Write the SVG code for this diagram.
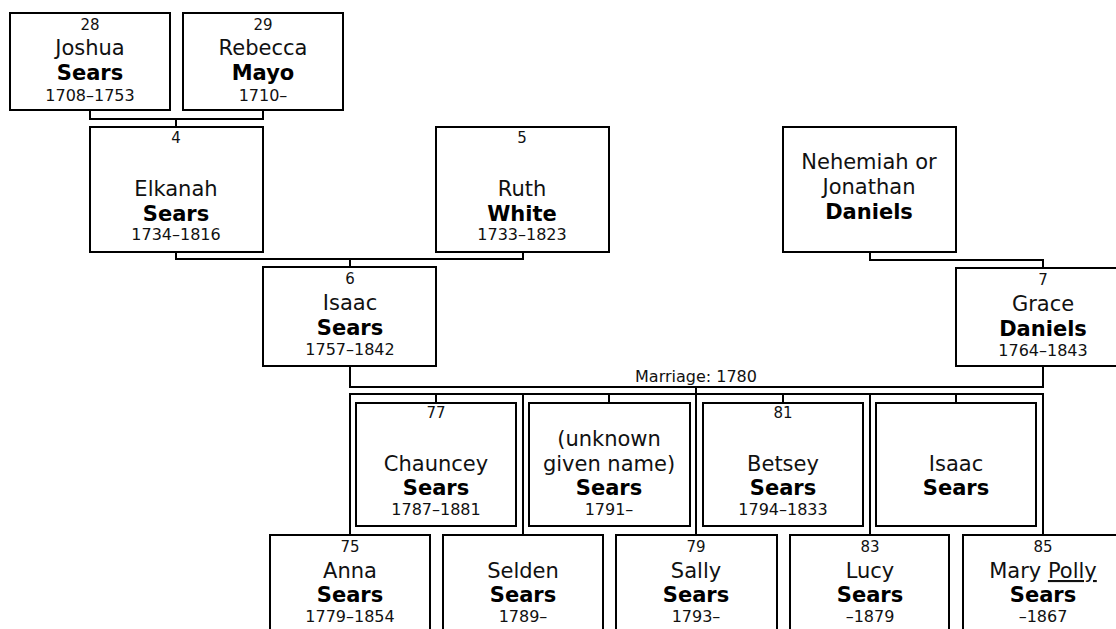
<svg xmlns="http://www.w3.org/2000/svg" width="1116" height="629" viewBox="0 0 1116 629">
<style>
rect.box{fill:#fff;stroke:#000;stroke-width:2}
.c path{fill:none;stroke:#000;stroke-width:2}
text{font-family:"DejaVu Sans",Verdana,sans-serif;text-anchor:middle;fill:#111}
.n{font-size:15px}
.g{font-size:21px}
.s{font-size:21px;font-weight:bold;fill:#000}
.y{font-size:16px}
.m{font-size:16px}
</style>
<rect width="1116" height="629" fill="#fff"/>
<g class="c" id="connectors">
<path d="M90 110V119H263V110M176 119V127"/>
<path d="M176 252V259H523V252M350 259V268"/>
<path d="M870 252V260H1043V268"/>
<path d="M350 366V387H1043V366M696 387V535"/>
<path d="M350 535V394H1043V535M523 394V535M870 394V535"/>
<path d="M436 394V403M609 394V403M783 394V403M956 394V403"/>
</g>
<text class="m" x="696" y="382">Marriage: 1780</text>
<g id="p28"><rect class="box" x="10" y="13" width="160" height="97"/><text class="n" x="90" y="30">28</text><text class="g" x="90" y="55">Joshua</text><text class="s" x="90" y="80">Sears</text><text class="y" x="90" y="101">1708–1753</text></g>
<g id="p29"><rect class="box" x="183" y="13" width="160" height="97"/><text class="n" x="263" y="30">29</text><text class="g" x="263" y="55">Rebecca</text><text class="s" x="263" y="80">Mayo</text><text class="y" x="263" y="101">1710–</text></g>
<g id="p4"><rect class="box" x="90" y="127" width="173" height="125"/><text class="n" x="176" y="143">4</text><text class="g" x="176" y="196">Elkanah</text><text class="s" x="176" y="221">Sears</text><text class="y" x="176" y="240">1734–1816</text></g>
<g id="p5"><rect class="box" x="436" y="127" width="173" height="125"/><text class="n" x="522" y="143">5</text><text class="g" x="522" y="196">Ruth</text><text class="s" x="522" y="221">White</text><text class="y" x="522" y="240">1733–1823</text></g>
<g id="pND"><rect class="box" x="783" y="127" width="173" height="125"/><text class="g" x="869" y="169">Nehemiah or</text><text class="g" x="869" y="194">Jonathan</text><text class="s" x="869" y="219">Daniels</text></g>
<g id="p6"><rect class="box" x="263" y="267" width="173" height="99"/><text class="n" x="350" y="284">6</text><text class="g" x="350" y="310">Isaac</text><text class="s" x="350" y="335">Sears</text><text class="y" x="350" y="355">1757–1842</text></g>
<g id="p7"><rect class="box" x="956" y="268" width="174" height="98"/><text class="n" x="1043" y="285">7</text><text class="g" x="1043" y="311">Grace</text><text class="s" x="1043" y="336">Daniels</text><text class="y" x="1043" y="356">1764–1843</text></g>
<g id="p77"><rect class="box" x="356" y="403" width="160" height="123"/><text class="n" x="436" y="418">77</text><text class="g" x="436" y="471">Chauncey</text><text class="s" x="436" y="495">Sears</text><text class="y" x="436" y="515">1787–1881</text></g>
<g id="pUnknown"><rect class="box" x="529" y="403" width="161" height="123"/><text class="g" x="609" y="446">(unknown</text><text class="g" x="609" y="471">given name)</text><text class="s" x="609" y="495">Sears</text><text class="y" x="609" y="515">1791–</text></g>
<g id="p81"><rect class="box" x="703" y="403" width="160" height="123"/><text class="n" x="783" y="418">81</text><text class="g" x="783" y="471">Betsey</text><text class="s" x="783" y="495">Sears</text><text class="y" x="783" y="515">1794–1833</text></g>
<g id="pIsaac2"><rect class="box" x="876" y="403" width="160" height="123"/><text class="g" x="956" y="471">Isaac</text><text class="s" x="956" y="495">Sears</text></g>
<g id="p75"><rect class="box" x="270" y="535" width="160" height="123"/><text class="n" x="350" y="552">75</text><text class="g" x="350" y="578">Anna</text><text class="s" x="350" y="602">Sears</text><text class="y" x="350" y="622">1779–1854</text></g>
<g id="pSelden"><rect class="box" x="443" y="535" width="160" height="123"/><text class="g" x="523" y="578">Selden</text><text class="s" x="523" y="602">Sears</text><text class="y" x="523" y="622">1789–</text></g>
<g id="p79"><rect class="box" x="616" y="535" width="161" height="123"/><text class="n" x="696" y="552">79</text><text class="g" x="696" y="578">Sally</text><text class="s" x="696" y="602">Sears</text><text class="y" x="696" y="622">1793–</text></g>
<g id="p83"><rect class="box" x="790" y="535" width="159" height="123"/><text class="n" x="870" y="552">83</text><text class="g" x="870" y="578">Lucy</text><text class="s" x="870" y="602">Sears</text><text class="y" x="870" y="622">–1879</text></g>
<g id="p85"><rect class="box" x="963" y="535" width="160" height="123"/><text class="n" x="1043" y="552">85</text><text class="g" x="1043" y="578">Mary <tspan text-decoration="underline">Polly</tspan></text><text class="s" x="1043" y="602">Sears</text><text class="y" x="1043" y="622">–1867</text></g>
</svg>
